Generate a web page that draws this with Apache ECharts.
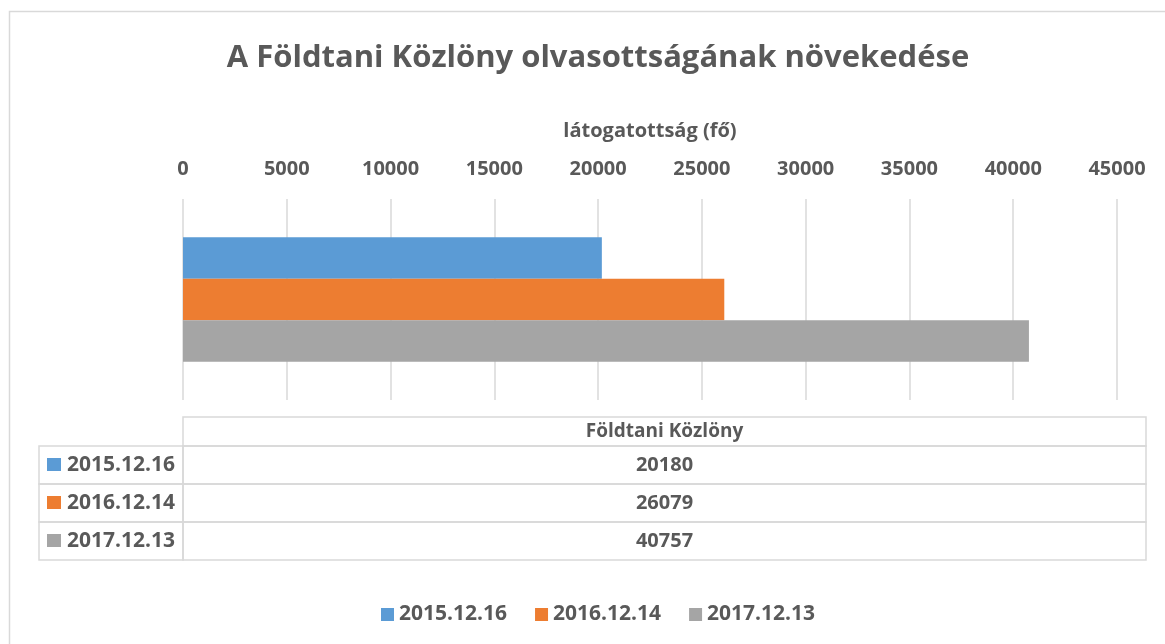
<!DOCTYPE html>
<html>
<head>
<meta charset="utf-8">
<script src="https://cdn.jsdelivr.net/npm/echarts@6/dist/echarts.min.js"></script>
<style>
  html, body { margin: 0; padding: 0; background: #fff; }
  #chart { width: 1165px; height: 644px; }
</style>
</head>
<body>
<div id="chart"></div>
<script>
"use strict";

/* ---------- adatok ---------- */
const category = "Földtani Közlöny";
const dates = ["2015.12.16", "2016.12.14", "2017.12.13"];
const visits = [20180, 26079, 40757];
const xTicks = { min: 0, max: 45000, step: 5000 };

/* ---------- színek, betű ---------- */
const C = {
    series: ["#5B9BD5", "#ED7D31", "#A5A5A5"],
    text: "#595959", line: "#D9D9D9"
};
const FONT = '"Open Sans", Lato, sans-serif';

// Adattábla a diagram alatt (Excel "data table") — graphic elemekből
function dataTable() {
    const L = 39, M = 183, R = 1146, top = 417, headH = 29, rowH = 38;
    const els = [];
    const cell = (x, y, w, h) => els.push({
        type: "rect", shape: { x: x, y: y, width: w, height: h },
        style: { fill: "none", stroke: C.line, lineWidth: 1.5 }, silent: true
    });
    const txt = (x, y, s, align, size) => els.push({
        type: "text", x: x, y: y, silent: true,
        style: { text: s, fill: C.text, font: `bold ${size}px ${FONT}`, align: align, verticalAlign: "middle" }
    });

    cell(M, top, R - M, headH);
    txt((M + R) / 2, top + headH / 2, category, "center", 19);

    dates.forEach((d, i) => {
        const y = top + headH + i * rowH;
        cell(L, y, M - L, rowH);
        cell(M, y, R - M, rowH);
        els.push({
            type: "rect", shape: { x: 47, y: y + rowH / 2 - 7, width: 14, height: 13 },
            style: { fill: C.series[i] }, silent: true
        });
        txt(67, y + rowH / 2, d, "left", 21);
        txt((M + R) / 2, y + rowH / 2, String(visits[i]), "center", 20);
    });
    return els;
}

const chart = echarts.init(document.getElementById("chart"));
chart.setOption({
    animation: false,
    textStyle: { fontFamily: FONT },
    title: {
        text: "A Földtani Közlöny olvasottságának növekedése",
        left: 593, top: 38, textAlign: "center",
        textStyle: { fontSize: 31, fontWeight: "bold", color: C.text, fontFamily: FONT }
    },
    grid: { left: 183, right: 48, top: 199, bottom: 244 },
    xAxis: {
        type: "value", position: "top",
        min: xTicks.min, max: xTicks.max, interval: xTicks.step,
        name: "látogatottság (fő)", nameLocation: "middle", nameGap: 58,
        nameTextStyle: { fontSize: 20, fontWeight: "bold", color: C.text },
        axisLine: { show: false }, axisTick: { show: false },
        axisLabel: {
            margin: 20, fontSize: 20, fontWeight: "bold", color: C.text,
            formatter: v => String(v)
        },
        splitLine: { lineStyle: { color: C.line, width: 1.5 } }
    },
    yAxis: {
        type: "category", data: [category], inverse: true,
        show: false
    },
    legend: {
        left: 376, top: 599,
        icon: "rect", itemWidth: 13, itemHeight: 13, itemGap: 28,
        textStyle: { fontSize: 21, fontWeight: "bold", color: C.text },
        data: dates
    },
    graphic: [
        {
            type: "rect", shape: { x: 9.5, y: 11.5, width: 1300, height: 800 },
            style: { fill: "none", stroke: C.line, lineWidth: 1.5 }, silent: true, z: -1
        }
    ].concat(dataTable()),
    series: dates.map((d, i) => ({
        name: d, type: "bar",
        barCategoryGap: "38%", barGap: "0%",
        itemStyle: { color: C.series[i] },
        data: [visits[i]]
    }))
});
</script>
</body>
</html>
